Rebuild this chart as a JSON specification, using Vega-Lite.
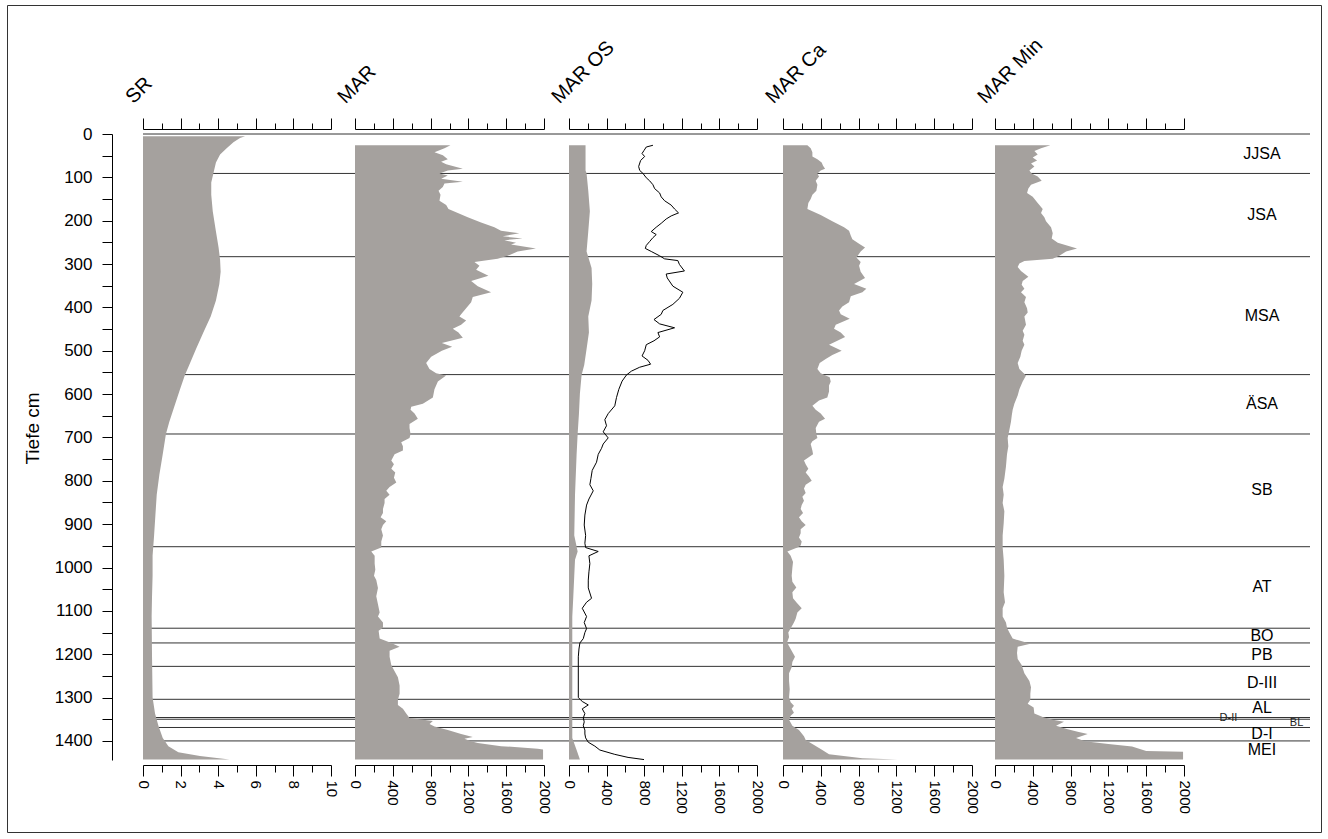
{
  "$schema": "https://vega.github.io/schema/vega-lite/v6.json",
  "width": 1167,
  "height": 626,
  "autosize": {"type": "none"},
  "padding": {"left": 143, "top": 134, "right": 18, "bottom": 79},
  "background": "white",
  "config": {
    "view": {"stroke": null},
    "font": "Liberation Sans",
    "axis": {"domainColor": "#000", "tickColor": "#000", "labelColor": "#000", "titleColor": "#000", "labelFont": "Liberation Sans", "titleFont": "Liberation Sans", "labelFontSize": 15, "titleFontSize": 20, "titleFontWeight": "normal", "grid": false, "domainWidth": 1, "tickWidth": 1, "labelFlush": false}
  },
  "datasets": {
    "sr": [{"d":5,"v":5.43},{"d":9.5,"v":5.16},{"d":19,"v":4.81},{"d":33,"v":4.45},{"d":47,"v":4.10},{"d":66,"v":3.88},{"d":84,"v":3.78},{"d":112,"v":3.63},{"d":140,"v":3.63},{"d":178,"v":3.71},{"d":225,"v":3.88},{"d":262,"v":4.02},{"d":290,"v":4.10},{"d":318,"v":4.13},{"d":346,"v":4.06},{"d":384,"v":3.88},{"d":421,"v":3.60},{"d":458,"v":3.21},{"d":496,"v":2.82},{"d":533,"v":2.46},{"d":556,"v":2.23},{"d":589,"v":1.97},{"d":627,"v":1.68},{"d":664,"v":1.40},{"d":692,"v":1.22},{"d":739,"v":1.05},{"d":786,"v":0.87},{"d":832,"v":0.73},{"d":879,"v":0.66},{"d":926,"v":0.59},{"d":973,"v":0.51},{"d":1019,"v":0.51},{"d":1066,"v":0.48},{"d":1113,"v":0.46},{"d":1206,"v":0.48},{"d":1300,"v":0.51},{"d":1337,"v":0.64},{"d":1365,"v":0.82},{"d":1393,"v":1.05},{"d":1412,"v":1.35},{"d":1426,"v":1.88},{"d":1435,"v":3.03},{"d":1443,"v":4.6}],
    "mar": [{"d":26,"v":1010},{"d":33,"v":947},{"d":42,"v":841},{"d":49,"v":930},{"d":58,"v":982},{"d":64,"v":911},{"d":70,"v":965},{"d":80,"v":1141},{"d":84,"v":982},{"d":91,"v":894},{"d":96,"v":982},{"d":103,"v":912},{"d":110,"v":1141},{"d":114,"v":947},{"d":122,"v":929},{"d":131,"v":884},{"d":140,"v":905},{"d":154,"v":894},{"d":164,"v":965},{"d":173,"v":989},{"d":182,"v":1088},{"d":192,"v":1193},{"d":204,"v":1334},{"d":215,"v":1475},{"d":223,"v":1545},{"d":229,"v":1739},{"d":236,"v":1563},{"d":241,"v":1774},{"d":245,"v":1581},{"d":251,"v":1704},{"d":255,"v":1651},{"d":264,"v":1915},{"d":271,"v":1721},{"d":281,"v":1616},{"d":288,"v":1510},{"d":295,"v":1264},{"d":304,"v":1317},{"d":313,"v":1282},{"d":327,"v":1412},{"d":339,"v":1229},{"d":351,"v":1299},{"d":365,"v":1440},{"d":376,"v":1246},{"d":388,"v":1229},{"d":402,"v":1176},{"d":416,"v":1123},{"d":421,"v":1105},{"d":430,"v":1176},{"d":440,"v":1123},{"d":449,"v":1035},{"d":458,"v":1095},{"d":470,"v":1141},{"d":482,"v":919},{"d":491,"v":1028},{"d":500,"v":919},{"d":514,"v":806},{"d":528,"v":753},{"d":542,"v":788},{"d":552,"v":859},{"d":557,"v":964},{"d":571,"v":877},{"d":589,"v":841},{"d":608,"v":824},{"d":622,"v":718},{"d":629,"v":595},{"d":636,"v":588},{"d":645,"v":630},{"d":657,"v":665},{"d":669,"v":577},{"d":678,"v":577},{"d":692,"v":588},{"d":701,"v":577},{"d":711,"v":489},{"d":720,"v":507},{"d":730,"v":507},{"d":739,"v":419},{"d":753,"v":384},{"d":762,"v":412},{"d":772,"v":384},{"d":781,"v":426},{"d":793,"v":412},{"d":804,"v":437},{"d":814,"v":366},{"d":823,"v":331},{"d":832,"v":366},{"d":842,"v":313},{"d":851,"v":313},{"d":865,"v":296},{"d":874,"v":296},{"d":884,"v":271},{"d":893,"v":331},{"d":902,"v":296},{"d":912,"v":278},{"d":926,"v":296},{"d":940,"v":278},{"d":954,"v":278},{"d":963,"v":172},{"d":973,"v":208},{"d":991,"v":208},{"d":1005,"v":215},{"d":1019,"v":201},{"d":1029,"v":225},{"d":1047,"v":243},{"d":1066,"v":225},{"d":1085,"v":243},{"d":1104,"v":261},{"d":1113,"v":243},{"d":1127,"v":296},{"d":1139,"v":296},{"d":1146,"v":250},{"d":1164,"v":261},{"d":1174,"v":384},{"d":1183,"v":472},{"d":1192,"v":366},{"d":1206,"v":366},{"d":1225,"v":384},{"d":1239,"v":419},{"d":1253,"v":454},{"d":1272,"v":472},{"d":1291,"v":472},{"d":1305,"v":454},{"d":1317,"v":454},{"d":1326,"v":507},{"d":1337,"v":542},{"d":1347,"v":577},{"d":1354,"v":824},{"d":1361,"v":789},{"d":1367,"v":841},{"d":1375,"v":982},{"d":1384,"v":1123},{"d":1391,"v":1246},{"d":1395,"v":1158},{"d":1401,"v":1229},{"d":1405,"v":1299},{"d":1412,"v":1546},{"d":1418,"v":1933},{"d":1420,"v":1990},{"d":1443,"v":1990}],
    "maros": [{"d":26,"v":176},{"d":84,"v":176},{"d":91,"v":187},{"d":131,"v":205},{"d":178,"v":222},{"d":225,"v":205},{"d":271,"v":187},{"d":284,"v":205},{"d":309,"v":240},{"d":346,"v":247},{"d":384,"v":240},{"d":421,"v":205},{"d":458,"v":212},{"d":496,"v":187},{"d":533,"v":162},{"d":556,"v":134},{"d":599,"v":116},{"d":645,"v":106},{"d":692,"v":92},{"d":739,"v":81},{"d":832,"v":64},{"d":926,"v":56},{"d":963,"v":92},{"d":982,"v":64},{"d":1019,"v":56},{"d":1066,"v":46},{"d":1113,"v":35},{"d":1393,"v":35},{"d":1421,"v":81},{"d":1443,"v":116}],
    "maroslinie": [{"d":26,"v":893},{"d":30,"v":822},{"d":38,"v":798},{"d":45,"v":777},{"d":52,"v":805},{"d":61,"v":762},{"d":75,"v":741},{"d":84,"v":752},{"d":91,"v":787},{"d":101,"v":822},{"d":108,"v":858},{"d":117,"v":893},{"d":126,"v":911},{"d":136,"v":964},{"d":145,"v":981},{"d":154,"v":1017},{"d":164,"v":1087},{"d":173,"v":1123},{"d":182,"v":1165},{"d":189,"v":1087},{"d":196,"v":1034},{"d":206,"v":981},{"d":215,"v":928},{"d":225,"v":875},{"d":232,"v":928},{"d":239,"v":893},{"d":248,"v":858},{"d":257,"v":822},{"d":264,"v":812},{"d":271,"v":875},{"d":281,"v":964},{"d":288,"v":1017},{"d":292,"v":1158},{"d":301,"v":1175},{"d":316,"v":1228},{"d":323,"v":1034},{"d":332,"v":1045},{"d":351,"v":1105},{"d":365,"v":1211},{"d":379,"v":1175},{"d":393,"v":1105},{"d":407,"v":999},{"d":416,"v":981},{"d":428,"v":904},{"d":438,"v":964},{"d":447,"v":1123},{"d":458,"v":946},{"d":468,"v":964},{"d":477,"v":904},{"d":486,"v":822},{"d":500,"v":805},{"d":512,"v":777},{"d":522,"v":840},{"d":531,"v":868},{"d":538,"v":752},{"d":547,"v":664},{"d":556,"v":611},{"d":570,"v":565},{"d":589,"v":530},{"d":608,"v":505},{"d":627,"v":487},{"d":645,"v":417},{"d":659,"v":381},{"d":673,"v":399},{"d":687,"v":364},{"d":701,"v":417},{"d":715,"v":364},{"d":725,"v":346},{"d":739,"v":311},{"d":757,"v":293},{"d":776,"v":247},{"d":795,"v":233},{"d":809,"v":222},{"d":823,"v":258},{"d":842,"v":212},{"d":856,"v":187},{"d":879,"v":169},{"d":902,"v":162},{"d":926,"v":177},{"d":944,"v":169},{"d":954,"v":177},{"d":963,"v":311},{"d":973,"v":212},{"d":991,"v":222},{"d":1010,"v":212},{"d":1029,"v":205},{"d":1047,"v":205},{"d":1071,"v":240},{"d":1080,"v":187},{"d":1094,"v":141},{"d":1113,"v":187},{"d":1127,"v":162},{"d":1141,"v":187},{"d":1150,"v":169},{"d":1164,"v":152},{"d":1174,"v":116},{"d":1188,"v":106},{"d":1206,"v":99},{"d":1300,"v":99},{"d":1309,"v":141},{"d":1317,"v":205},{"d":1326,"v":141},{"d":1337,"v":169},{"d":1347,"v":152},{"d":1356,"v":162},{"d":1365,"v":152},{"d":1375,"v":169},{"d":1384,"v":169},{"d":1393,"v":177},{"d":1403,"v":205},{"d":1412,"v":275},{"d":1421,"v":328},{"d":1431,"v":487},{"d":1438,"v":628},{"d":1443,"v":798}],
    "marca": [{"d":26,"v":258},{"d":33,"v":293},{"d":42,"v":311},{"d":52,"v":311},{"d":58,"v":364},{"d":66,"v":409},{"d":73,"v":424},{"d":80,"v":445},{"d":84,"v":399},{"d":91,"v":364},{"d":98,"v":381},{"d":108,"v":346},{"d":117,"v":364},{"d":131,"v":353},{"d":140,"v":311},{"d":150,"v":293},{"d":159,"v":268},{"d":173,"v":258},{"d":178,"v":311},{"d":187,"v":399},{"d":201,"v":522},{"d":215,"v":646},{"d":223,"v":699},{"d":234,"v":717},{"d":243,"v":734},{"d":253,"v":805},{"d":262,"v":868},{"d":271,"v":822},{"d":285,"v":777},{"d":295,"v":822},{"d":304,"v":805},{"d":318,"v":822},{"d":332,"v":868},{"d":346,"v":752},{"d":357,"v":882},{"d":365,"v":840},{"d":374,"v":717},{"d":388,"v":699},{"d":398,"v":628},{"d":407,"v":593},{"d":416,"v":611},{"d":426,"v":706},{"d":440,"v":558},{"d":449,"v":540},{"d":458,"v":611},{"d":468,"v":657},{"d":477,"v":575},{"d":486,"v":487},{"d":500,"v":621},{"d":510,"v":522},{"d":519,"v":452},{"d":528,"v":388},{"d":542,"v":364},{"d":552,"v":399},{"d":561,"v":494},{"d":571,"v":505},{"d":580,"v":487},{"d":594,"v":487},{"d":608,"v":469},{"d":615,"v":381},{"d":627,"v":311},{"d":636,"v":346},{"d":645,"v":399},{"d":657,"v":445},{"d":664,"v":381},{"d":678,"v":346},{"d":692,"v":353},{"d":701,"v":364},{"d":709,"v":311},{"d":715,"v":293},{"d":730,"v":311},{"d":739,"v":318},{"d":753,"v":222},{"d":762,"v":240},{"d":772,"v":268},{"d":781,"v":240},{"d":790,"v":275},{"d":800,"v":304},{"d":809,"v":240},{"d":818,"v":222},{"d":828,"v":240},{"d":837,"v":205},{"d":846,"v":222},{"d":856,"v":198},{"d":865,"v":187},{"d":874,"v":212},{"d":884,"v":169},{"d":893,"v":198},{"d":902,"v":240},{"d":912,"v":187},{"d":921,"v":187},{"d":931,"v":169},{"d":940,"v":198},{"d":949,"v":187},{"d":954,"v":152},{"d":963,"v":46},{"d":973,"v":81},{"d":987,"v":106},{"d":1001,"v":99},{"d":1019,"v":92},{"d":1033,"v":99},{"d":1046,"v":141},{"d":1057,"v":99},{"d":1071,"v":106},{"d":1080,"v":141},{"d":1094,"v":198},{"d":1104,"v":152},{"d":1118,"v":134},{"d":1127,"v":116},{"d":1136,"v":92},{"d":1150,"v":56},{"d":1160,"v":64},{"d":1171,"v":46},{"d":1178,"v":56},{"d":1188,"v":81},{"d":1206,"v":127},{"d":1218,"v":99},{"d":1230,"v":92},{"d":1244,"v":64},{"d":1262,"v":64},{"d":1281,"v":71},{"d":1300,"v":64},{"d":1311,"v":81},{"d":1319,"v":116},{"d":1326,"v":92},{"d":1335,"v":116},{"d":1342,"v":81},{"d":1351,"v":64},{"d":1365,"v":99},{"d":1375,"v":169},{"d":1389,"v":222},{"d":1398,"v":240},{"d":1407,"v":311},{"d":1421,"v":416},{"d":1431,"v":487},{"d":1440,"v":840},{"d":1443,"v":1211}],
    "marmin": [{"d":26,"v":586},{"d":33,"v":487},{"d":39,"v":417},{"d":47,"v":452},{"d":54,"v":399},{"d":61,"v":445},{"d":68,"v":381},{"d":75,"v":417},{"d":84,"v":364},{"d":91,"v":388},{"d":98,"v":452},{"d":108,"v":494},{"d":117,"v":381},{"d":126,"v":353},{"d":136,"v":339},{"d":145,"v":399},{"d":159,"v":452},{"d":173,"v":505},{"d":182,"v":487},{"d":192,"v":522},{"d":201,"v":540},{"d":215,"v":593},{"d":229,"v":611},{"d":241,"v":600},{"d":251,"v":664},{"d":264,"v":868},{"d":271,"v":752},{"d":281,"v":681},{"d":288,"v":611},{"d":293,"v":311},{"d":299,"v":258},{"d":307,"v":240},{"d":316,"v":275},{"d":329,"v":353},{"d":339,"v":293},{"d":348,"v":282},{"d":357,"v":311},{"d":365,"v":275},{"d":376,"v":328},{"d":388,"v":311},{"d":402,"v":339},{"d":412,"v":346},{"d":421,"v":311},{"d":440,"v":328},{"d":454,"v":293},{"d":463,"v":311},{"d":477,"v":293},{"d":486,"v":311},{"d":500,"v":282},{"d":514,"v":268},{"d":528,"v":240},{"d":542,"v":258},{"d":557,"v":328},{"d":571,"v":293},{"d":589,"v":258},{"d":603,"v":240},{"d":622,"v":205},{"d":636,"v":187},{"d":650,"v":177},{"d":664,"v":169},{"d":683,"v":152},{"d":701,"v":134},{"d":720,"v":141},{"d":739,"v":127},{"d":767,"v":116},{"d":795,"v":99},{"d":814,"v":81},{"d":832,"v":92},{"d":851,"v":81},{"d":870,"v":99},{"d":898,"v":92},{"d":926,"v":81},{"d":954,"v":81},{"d":982,"v":92},{"d":1019,"v":99},{"d":1057,"v":92},{"d":1080,"v":106},{"d":1094,"v":81},{"d":1113,"v":81},{"d":1127,"v":116},{"d":1139,"v":127},{"d":1150,"v":152},{"d":1164,"v":187},{"d":1176,"v":374},{"d":1183,"v":240},{"d":1197,"v":233},{"d":1211,"v":240},{"d":1225,"v":282},{"d":1244,"v":311},{"d":1262,"v":364},{"d":1276,"v":381},{"d":1291,"v":374},{"d":1305,"v":374},{"d":1314,"v":346},{"d":1323,"v":409},{"d":1337,"v":416},{"d":1345,"v":505},{"d":1351,"v":611},{"d":1356,"v":730},{"d":1365,"v":646},{"d":1373,"v":770},{"d":1379,"v":875},{"d":1384,"v":981},{"d":1393,"v":858},{"d":1401,"v":950},{"d":1407,"v":1200},{"d":1413,"v":1450},{"d":1423,"v":1600},{"d":1425,"v":1990},{"d":1443,"v":1990}],
    "grenzen": [{"d":0},{"d":91},{"d":283},{"d":555},{"d":692},{"d":952},{"d":1140},{"d":1174},{"d":1228},{"d":1304},{"d":1346},{"d":1350},{"d":1369},{"d":1400}],
    "zonen": [{"zone":"JJSA","top":0,"bottom":91},{"zone":"JSA","top":91,"bottom":283},{"zone":"MSA","top":283,"bottom":555},{"zone":"ÄSA","top":555,"bottom":692},{"zone":"SB","top":692,"bottom":952},{"zone":"AT","top":952,"bottom":1140},{"zone":"BO","top":1140,"bottom":1174},{"zone":"PB","top":1174,"bottom":1228},{"zone":"D-III","top":1228,"bottom":1304},{"zone":"AL","top":1304,"bottom":1346},{"zone":"D-II","top":1346,"bottom":1350},{"zone":"BL","top":1350,"bottom":1369},{"zone":"D-I","top":1369,"bottom":1400},{"zone":"MEI","top":1400,"bottom":1444}]
  },
  "resolve": {"scale": {"x": "independent", "y": "independent"}, "axis": {"x": "independent", "y": "independent"}},
  "layer": [
    {
      "resolve": {"axis": {"x": "independent", "y": "independent"}},
      "layer": [
        {"data": {"values": [{}]}, "mark": {"type": "rule", "opacity": 0}, "encoding": {"x": {"datum": 0, "type": "quantitative", "scale": {"domain": [0, 1], "range": [-136, 1178], "nice": false}, "axis": {"orient": "top", "offset": 129, "ticks": false, "labels": false, "title": null, "domainColor": "#333"}}, "y": {"datum": 0, "type": "quantitative", "scale": {"domain": [0, 1], "range": [-129, 698], "nice": false}, "axis": {"orient": "left", "offset": 136, "ticks": false, "labels": false, "title": null, "domainColor": "#333"}}}},
        {"data": {"values": [{}]}, "mark": {"type": "rule", "opacity": 0}, "encoding": {"x": {"datum": 0, "type": "quantitative", "scale": {"domain": [0, 1], "range": [-136, 1178], "nice": false}, "axis": {"orient": "bottom", "offset": 72, "ticks": false, "labels": false, "title": null, "domainColor": "#333"}}, "y": {"datum": 0, "type": "quantitative", "scale": {"domain": [0, 1], "range": [-129, 698], "nice": false}, "axis": {"orient": "right", "offset": 11, "ticks": false, "labels": false, "title": null, "domainColor": "#333"}}}}
      ]
    },
    {
      "encoding": {
        "y": {
          "field": "d", "type": "quantitative", "title": "Tiefe cm",
          "scale": {"domain": [0, 1444], "reverse": true, "nice": false, "zero": false},
          "axis": {"orient": "left", "offset": 31, "values": [0,50,100,150,200,250,300,350,400,450,500,550,600,650,700,750,800,850,900,950,1000,1050,1100,1150,1200,1250,1300,1350,1400], "labelExpr": "datum.value % 100 === 0 ? datum.label : ''", "format": "d", "tickSize": 10, "labelPadding": 10, "labelFontSize": 17, "labelFlush": false, "labelOverlap": false, "titleFontSize": 19, "titleAngle": -90, "titleAlign": "center", "titleBaseline": "bottom", "titleX": -70, "titleY": 294}
        }
      },
      "resolve": {"scale": {"x": "independent"}, "axis": {"x": "independent"}},
      "layer": [
        {"data": {"name": "grenzen"}, "mark": {"type": "rule", "color": "#333", "strokeWidth": 1}, "encoding": {}},

        {"data": {"values": [{}]}, "mark": {"type": "rule", "color": "#444"}, "encoding": {"x": {"datum": 0, "type": "quantitative", "scale": {"domain": [0, 10], "range": [0, 188], "nice": false}, "axis": {"orient": "bottom", "offset": 5, "values": [1,3,5,7,9], "tickSize": 7, "labels": false, "domain": false, "title": null}}, "y": {"datum": 0, "type": "quantitative"}, "y2": {"datum": 1444}}},
        {"data": {"name": "sr"}, "mark": {"type": "area", "orient": "horizontal", "color": "#a5a19e"}, "encoding": {"x": {"field": "v", "type": "quantitative", "scale": {"domain": [0, 10], "range": [0, 188], "nice": false}, "axis": {"orient": "bottom", "offset": 5, "values": [0,2,4,6,8,10], "tickSize": 11, "labelAngle": 90, "labelPadding": 4, "format": "d", "title": null}}}},
        {"data": {"values": [{}]}, "mark": {"type": "rule", "opacity": 0}, "encoding": {"x": {"datum": 0, "type": "quantitative", "scale": {"domain": [0, 10], "range": [0, 188], "nice": false}, "axis": {"orient": "top", "offset": 5, "values": [0,2,4,6,8,10], "tickSize": 11, "labels": false, "title": "SR", "titleAngle": -45, "titleAlign": "left", "titleBaseline": "alphabetic", "titleX": -10, "titleY": -25}}, "y": {"datum": 0, "type": "quantitative"}}},
        {"data": {"values": [{}]}, "mark": {"type": "rule", "opacity": 0}, "encoding": {"x": {"datum": 0, "type": "quantitative", "scale": {"domain": [0, 10], "range": [0, 188], "nice": false}, "axis": {"orient": "top", "offset": 5, "values": [1,3,5,7,9], "tickSize": 6, "labels": false, "domain": false, "title": null}}, "y": {"datum": 0, "type": "quantitative"}}},

        {"data": {"values": [{}]}, "mark": {"type": "rule", "color": "#444"}, "encoding": {"x": {"datum": 0, "type": "quantitative", "scale": {"domain": [0, 2000], "range": [212, 401], "nice": false}, "axis": {"orient": "bottom", "offset": 5, "values": [200,600,1000,1400,1800], "tickSize": 7, "labels": false, "domain": false, "title": null}}, "y": {"datum": 0, "type": "quantitative"}, "y2": {"datum": 1444}}},
        {"data": {"name": "mar"}, "mark": {"type": "area", "orient": "horizontal", "color": "#a5a19e"}, "encoding": {"x": {"field": "v", "type": "quantitative", "scale": {"domain": [0, 2000], "range": [212, 401], "nice": false}, "axis": {"orient": "bottom", "offset": 5, "values": [0,400,800,1200,1600,2000], "tickSize": 11, "labelAngle": 90, "labelPadding": 4, "format": "d", "title": null}}}},
        {"data": {"values": [{}]}, "mark": {"type": "rule", "opacity": 0}, "encoding": {"x": {"datum": 0, "type": "quantitative", "scale": {"domain": [0, 2000], "range": [212, 401], "nice": false}, "axis": {"orient": "top", "offset": 5, "values": [0,400,800,1200,1600,2000], "tickSize": 11, "labels": false, "title": "MAR", "titleAngle": -45, "titleAlign": "left", "titleBaseline": "alphabetic", "titleX": 202, "titleY": -25}}, "y": {"datum": 0, "type": "quantitative"}}},
        {"data": {"values": [{}]}, "mark": {"type": "rule", "opacity": 0}, "encoding": {"x": {"datum": 0, "type": "quantitative", "scale": {"domain": [0, 2000], "range": [212, 401], "nice": false}, "axis": {"orient": "top", "offset": 5, "values": [200,600,1000,1400,1800], "tickSize": 6, "labels": false, "domain": false, "title": null}}, "y": {"datum": 0, "type": "quantitative"}}},

        {"data": {"values": [{}]}, "mark": {"type": "rule", "color": "#444"}, "encoding": {"x": {"datum": 0, "type": "quantitative", "scale": {"domain": [0, 2000], "range": [426, 614], "nice": false}, "axis": {"orient": "bottom", "offset": 5, "values": [200,600,1000,1400,1800], "tickSize": 7, "labels": false, "domain": false, "title": null}}, "y": {"datum": 0, "type": "quantitative"}, "y2": {"datum": 1444}}},
        {"data": {"name": "maros"}, "mark": {"type": "area", "orient": "horizontal", "color": "#a5a19e"}, "encoding": {"x": {"field": "v", "type": "quantitative", "scale": {"domain": [0, 2000], "range": [426, 614], "nice": false}, "axis": {"orient": "bottom", "offset": 5, "values": [0,400,800,1200,1600,2000], "tickSize": 11, "labelAngle": 90, "labelPadding": 4, "format": "d", "title": null}}}},
        {"data": {"name": "maroslinie"}, "mark": {"type": "line", "color": "#000", "strokeWidth": 1}, "encoding": {"x": {"field": "v", "type": "quantitative", "scale": {"domain": [0, 2000], "range": [426, 614], "nice": false}, "axis": null}, "order": {"field": "d", "type": "quantitative"}}},
        {"data": {"values": [{}]}, "mark": {"type": "rule", "opacity": 0}, "encoding": {"x": {"datum": 0, "type": "quantitative", "scale": {"domain": [0, 2000], "range": [426, 614], "nice": false}, "axis": {"orient": "top", "offset": 5, "values": [0,400,800,1200,1600,2000], "tickSize": 11, "labels": false, "title": "MAR OS", "titleAngle": -45, "titleAlign": "left", "titleBaseline": "alphabetic", "titleX": 416, "titleY": -25}}, "y": {"datum": 0, "type": "quantitative"}}},
        {"data": {"values": [{}]}, "mark": {"type": "rule", "opacity": 0}, "encoding": {"x": {"datum": 0, "type": "quantitative", "scale": {"domain": [0, 2000], "range": [426, 614], "nice": false}, "axis": {"orient": "top", "offset": 5, "values": [200,600,1000,1400,1800], "tickSize": 6, "labels": false, "domain": false, "title": null}}, "y": {"datum": 0, "type": "quantitative"}}},

        {"data": {"values": [{}]}, "mark": {"type": "rule", "color": "#444"}, "encoding": {"x": {"datum": 0, "type": "quantitative", "scale": {"domain": [0, 2000], "range": [640, 829], "nice": false}, "axis": {"orient": "bottom", "offset": 5, "values": [200,600,1000,1400,1800], "tickSize": 7, "labels": false, "domain": false, "title": null}}, "y": {"datum": 0, "type": "quantitative"}, "y2": {"datum": 1444}}},
        {"data": {"name": "marca"}, "mark": {"type": "area", "orient": "horizontal", "color": "#a5a19e"}, "encoding": {"x": {"field": "v", "type": "quantitative", "scale": {"domain": [0, 2000], "range": [640, 829], "nice": false}, "axis": {"orient": "bottom", "offset": 5, "values": [0,400,800,1200,1600,2000], "tickSize": 11, "labelAngle": 90, "labelPadding": 4, "format": "d", "title": null}}}},
        {"data": {"values": [{}]}, "mark": {"type": "rule", "opacity": 0}, "encoding": {"x": {"datum": 0, "type": "quantitative", "scale": {"domain": [0, 2000], "range": [640, 829], "nice": false}, "axis": {"orient": "top", "offset": 5, "values": [0,400,800,1200,1600,2000], "tickSize": 11, "labels": false, "title": "MAR Ca", "titleAngle": -45, "titleAlign": "left", "titleBaseline": "alphabetic", "titleX": 630, "titleY": -25}}, "y": {"datum": 0, "type": "quantitative"}}},
        {"data": {"values": [{}]}, "mark": {"type": "rule", "opacity": 0}, "encoding": {"x": {"datum": 0, "type": "quantitative", "scale": {"domain": [0, 2000], "range": [640, 829], "nice": false}, "axis": {"orient": "top", "offset": 5, "values": [200,600,1000,1400,1800], "tickSize": 6, "labels": false, "domain": false, "title": null}}, "y": {"datum": 0, "type": "quantitative"}}},

        {"data": {"values": [{}]}, "mark": {"type": "rule", "color": "#444"}, "encoding": {"x": {"datum": 0, "type": "quantitative", "scale": {"domain": [0, 2000], "range": [852, 1041], "nice": false}, "axis": {"orient": "bottom", "offset": 5, "values": [200,600,1000,1400,1800], "tickSize": 7, "labels": false, "domain": false, "title": null}}, "y": {"datum": 0, "type": "quantitative"}, "y2": {"datum": 1444}}},
        {"data": {"name": "marmin"}, "mark": {"type": "area", "orient": "horizontal", "color": "#a5a19e"}, "encoding": {"x": {"field": "v", "type": "quantitative", "scale": {"domain": [0, 2000], "range": [852, 1041], "nice": false}, "axis": {"orient": "bottom", "offset": 5, "values": [0,400,800,1200,1600,2000], "tickSize": 11, "labelAngle": 90, "labelPadding": 4, "format": "d", "title": null}}}},
        {"data": {"values": [{}]}, "mark": {"type": "rule", "opacity": 0}, "encoding": {"x": {"datum": 0, "type": "quantitative", "scale": {"domain": [0, 2000], "range": [852, 1041], "nice": false}, "axis": {"orient": "top", "offset": 5, "values": [0,400,800,1200,1600,2000], "tickSize": 11, "labels": false, "title": "MAR Min", "titleAngle": -45, "titleAlign": "left", "titleBaseline": "alphabetic", "titleX": 842, "titleY": -25}}, "y": {"datum": 0, "type": "quantitative"}}},
        {"data": {"values": [{}]}, "mark": {"type": "rule", "opacity": 0}, "encoding": {"x": {"datum": 0, "type": "quantitative", "scale": {"domain": [0, 2000], "range": [852, 1041], "nice": false}, "axis": {"orient": "top", "offset": 5, "values": [200,600,1000,1400,1800], "tickSize": 6, "labels": false, "domain": false, "title": null}}, "y": {"datum": 0, "type": "quantitative"}}},

        {"data": {"values": [{}]}, "mark": {"type": "rule", "color": "#333"}, "encoding": {"x": {"datum": 0, "type": "quantitative", "scale": {"domain": [0, 1], "range": [1071, 1167], "nice": false}, "axis": null}, "y": {"datum": -12, "type": "quantitative"}, "y2": {"datum": 1438}}},
        {"data": {"values": [{}]}, "mark": {"type": "rule", "color": "#333"}, "encoding": {"x": {"datum": 1, "type": "quantitative", "scale": {"domain": [0, 1], "range": [1071, 1167], "nice": false}, "axis": null}, "y": {"datum": -12, "type": "quantitative"}, "y2": {"datum": 1438}}},
        {"data": {"name": "zonen"}, "transform": [{"filter": "datum.zone !== 'D-II' && datum.zone !== 'BL'"}, {"calculate": "(datum.top + datum.bottom) / 2", "as": "d"}], "mark": {"type": "text", "font": "Liberation Sans", "fontSize": 16, "color": "#000", "baseline": "middle", "align": "center"}, "encoding": {"x": {"datum": 0.5, "type": "quantitative", "scale": {"domain": [0, 1], "range": [1071, 1167], "nice": false}, "axis": null}, "text": {"field": "zone"}}},
        {"data": {"name": "zonen"}, "transform": [{"filter": "datum.zone === 'D-II'"}, {"calculate": "(datum.top + datum.bottom) / 2", "as": "d"}], "mark": {"type": "text", "font": "Liberation Sans", "fontSize": 11, "color": "#222", "baseline": "middle", "align": "center"}, "encoding": {"x": {"datum": 0.15, "type": "quantitative", "scale": {"domain": [0, 1], "range": [1071, 1167], "nice": false}, "axis": null}, "text": {"field": "zone"}}},
        {"data": {"name": "zonen"}, "transform": [{"filter": "datum.zone === 'BL'"}, {"calculate": "(datum.top + datum.bottom) / 2", "as": "d"}], "mark": {"type": "text", "font": "Liberation Sans", "fontSize": 11, "color": "#222", "baseline": "middle", "align": "center"}, "encoding": {"x": {"datum": 0.86, "type": "quantitative", "scale": {"domain": [0, 1], "range": [1071, 1167], "nice": false}, "axis": null}, "text": {"field": "zone"}}}
      ]
    }
  ]
}
